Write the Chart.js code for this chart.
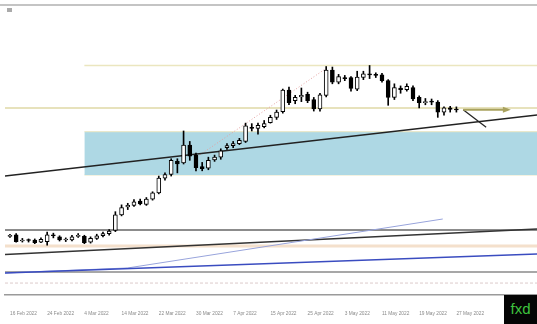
<!DOCTYPE html>
<html>
<head>
<meta charset="utf-8">
<script src="https://cdn.jsdelivr.net/npm/chart.js@4.4.1/dist/chart.umd.min.js"></script>
<style>
  html, body { margin: 0; padding: 0; background: #fff; }
  #wrap { position: relative; width: 537px; height: 324px; overflow: hidden; }
  #logo {
    position: absolute; left: 504px; top: 295px; width: 33px; height: 29px;
    background: #050505; color: #3fc43f; font: 15px "Liberation Sans", Arial, sans-serif;
    line-height: 27px; text-align: center;
  }
  #icon { position: absolute; left: 7px; top: 8px; width: 5px; height: 4px; background: #aaa; }
</style>
</head>
<body>
<div id="wrap">
  <canvas id="chart" width="537" height="324"></canvas>
  <div id="icon"></div>
  <div id="logo">fxd</div>
</div>
<script>
// USD/JPY daily candles, 16 Feb - 27 May 2022
const dates = [
  '16 Feb 2022','17 Feb 2022','18 Feb 2022','21 Feb 2022','22 Feb 2022','23 Feb 2022','24 Feb 2022','25 Feb 2022','28 Feb 2022',
  '1 Mar 2022','2 Mar 2022','3 Mar 2022','4 Mar 2022','7 Mar 2022','8 Mar 2022','9 Mar 2022','10 Mar 2022','11 Mar 2022',
  '14 Mar 2022','15 Mar 2022','16 Mar 2022','17 Mar 2022','18 Mar 2022','21 Mar 2022','22 Mar 2022','23 Mar 2022','24 Mar 2022',
  '25 Mar 2022','28 Mar 2022','29 Mar 2022','30 Mar 2022','31 Mar 2022','1 Apr 2022','4 Apr 2022','5 Apr 2022','6 Apr 2022',
  '7 Apr 2022','8 Apr 2022','11 Apr 2022','12 Apr 2022','13 Apr 2022','14 Apr 2022','15 Apr 2022','18 Apr 2022','19 Apr 2022',
  '20 Apr 2022','21 Apr 2022','22 Apr 2022','25 Apr 2022','26 Apr 2022','27 Apr 2022','28 Apr 2022','29 Apr 2022','2 May 2022',
  '3 May 2022','4 May 2022','5 May 2022','6 May 2022','9 May 2022','10 May 2022','11 May 2022','12 May 2022','13 May 2022',
  '16 May 2022','17 May 2022','18 May 2022','19 May 2022','20 May 2022','23 May 2022','24 May 2022','25 May 2022','26 May 2022',
  '27 May 2022'
];
const opens = [
  115.05,115.20,114.60,114.70,114.70,114.50,114.55,115.15,115.00,114.70,114.70,115.05,115.05,114.50,114.85,115.10,115.30,115.60,
  117.10,117.85,118.00,118.40,118.10,118.60,119.20,120.60,120.95,122.20,122.05,123.75,122.80,121.70,121.55,122.35,122.60,123.50,
  123.70,123.90,124.10,125.45,125.35,125.50,125.90,126.40,126.95,129.00,128.00,128.35,128.60,128.10,127.20,128.50,130.90,129.75,
  130.20,130.20,129.10,130.20,130.55,130.45,130.45,129.90,128.30,129.20,129.05,129.25,128.30,127.80,127.90,127.85,126.90,127.30,
  127.15
];
const highs = [
  115.25,115.30,114.85,114.80,114.80,114.90,115.45,115.35,115.10,114.90,115.15,115.30,115.15,115.00,115.25,115.45,115.70,117.40,
  118.05,118.20,118.55,118.60,118.75,119.30,120.80,121.10,122.45,122.45,125.10,124.10,123.00,122.10,122.60,122.80,123.40,123.90,
  124.10,124.40,125.85,125.80,125.85,126.10,126.60,127.10,129.10,129.30,128.50,129.20,128.80,128.30,128.70,131.25,131.20,130.50,
  130.40,130.30,130.80,130.80,131.35,130.65,130.60,130.00,129.60,129.40,129.60,129.40,128.45,128.20,128.15,128.00,127.40,127.45,
  127.40
];
const lows = [
  114.95,114.50,114.50,114.50,114.35,114.45,114.20,114.90,114.60,114.55,114.60,114.95,114.35,114.40,114.75,115.00,115.15,115.50,
  117.00,117.60,117.90,118.05,118.00,118.50,119.10,120.40,120.80,121.10,121.95,122.30,121.30,121.30,121.40,122.20,122.40,123.35,
  123.50,123.80,124.00,125.10,124.80,125.40,125.85,126.20,126.80,127.60,127.70,127.90,127.80,127.00,127.00,128.35,129.60,129.60,
  129.90,128.90,128.95,130.00,130.10,130.20,129.75,127.55,128.10,128.70,128.90,128.00,127.30,127.60,127.60,126.40,126.60,126.90,
  126.90
];
const closes = [
  115.10,114.55,114.70,114.65,114.45,114.75,115.20,115.10,114.70,114.75,115.00,115.10,114.45,114.85,115.10,115.30,115.55,117.10,
  117.80,118.00,118.35,118.15,118.60,119.20,120.60,120.95,122.30,121.95,123.75,122.70,121.60,121.50,122.30,122.60,123.20,123.70,
  123.90,124.20,125.60,125.35,125.65,125.80,126.40,126.90,129.00,127.80,128.30,128.50,128.00,127.20,128.55,130.90,129.75,130.30,
  130.10,129.15,130.25,130.55,130.45,130.40,129.90,128.30,129.25,129.05,129.35,128.15,127.80,127.90,127.85,126.90,127.30,127.15,
  127.10
];
const tickLabels = ['16 Feb 2022','24 Feb 2022','4 Mar 2022','14 Mar 2022','22 Mar 2022','30 Mar 2022','7 Apr 2022',
  '15 Apr 2022','25 Apr 2022','3 May 2022','11 May 2022','19 May 2022','27 May 2022'];

// drawn objects, in [bar index, price]
const resistanceTop = [[12, 131.35], [85, 131.35]];
const resistanceMid = [[-0.8, 127.30], [85, 127.30]];
const zoneTop = [[12, 125.03], [85, 125.03]];
const zoneBottom = [[12, 120.90], [85, 120.90]];
const trendMain = [[-0.8, 120.81], [85, 126.62]];
const trendRally = [[30.6, 122.80], [51.3, 131.20]];
const arrowFlat = [[73.1, 127.12], [80.3, 127.12]];
const arrowDown = [[73.1, 127.12], [76.8, 125.45]];
const supportLine = [[-0.8, 115.65], [85, 115.65]];
const trendLow = [[-0.8, 113.31], [85, 115.75]];
const peachLevel = [[-0.8, 114.12], [85, 114.12]];
const maFast = [[-0.8, 111.55], [19, 112.03], [69.8, 116.70]];
const maSlow = [[-0.8, 111.55], [85, 113.36]];
const lowLevel = [[-0.8, 111.64], [85, 111.64]];
const dashLevel = [[-0.8, 110.59], [85, 110.59]];

const pts = arr => arr.map(p => ({ x: p[0], y: p[1] }));

function lineSet(data, color, width, extra) {
  return Object.assign({
    type: 'line', data: pts(data), borderColor: color, borderWidth: width,
    pointRadius: 0, tension: 0, fill: false, order: 5
  }, extra || {});
}

const wicks = dates.map((d, i) => ({ x: i, y: [lows[i], highs[i]] }));
const bodies = dates.map((d, i) => ({ x: i, y: [opens[i], closes[i]] }));
const bodyColors = closes.map((c, i) => c >= opens[i] ? '#ffffff' : '#000000');

// arrow head on the flat projection + top frame line
const arrowHead = {
  id: 'arrowHead',
  afterDatasetsDraw(chart) {
    const { ctx, scales } = chart;
    const px = scales.x.getPixelForValue(arrowFlat[1][0]);
    const py = scales.y.getPixelForValue(arrowFlat[1][1]);
    ctx.save();
    ctx.fillStyle = '#a9a25e';
    ctx.beginPath();
    ctx.moveTo(px + 3, py);
    ctx.lineTo(px - 5, py - 3);
    ctx.lineTo(px - 5, py + 3);
    ctx.closePath();
    ctx.fill();
    ctx.strokeStyle = '#b0b0b0';
    ctx.lineWidth = 1.5;
    ctx.beginPath();
    ctx.moveTo(0, chart.chartArea.top);
    ctx.lineTo(chart.width, chart.chartArea.top);
    ctx.stroke();
    ctx.restore();
  }
};

new Chart(document.getElementById('chart'), {
  type: 'bar',
  data: {
    datasets: [
      lineSet(zoneTop, '#e9e5c2', 1, { fill: '+1', backgroundColor: '#aed8e4', order: 20 }),
      lineSet(zoneBottom, '#e9e5c2', 1, { order: 20 }),
      lineSet(resistanceTop, '#ebe6bf', 1.5, { order: 10 }),
      lineSet(resistanceMid, '#dfd8a6', 1.5, { order: 10 }),
      lineSet(peachLevel, '#f4e0cc', 3, { order: 10 }),
      lineSet(dashLevel, '#dccaca', 1, { borderDash: [3, 2], order: 10 }),
      lineSet(lowLevel, '#8a8a8a', 1.5, { order: 10 }),
      lineSet(supportLine, '#666666', 1.5, { order: 10 }),
      lineSet(maSlow, '#3a4cc0', 1.5),
      lineSet(maFast, '#98a4dc', 1),
      lineSet(trendLow, '#333333', 1.5),
      lineSet(trendMain, '#222222', 1.5),
      lineSet(trendRally, '#e3a0a0', 1, { borderDash: [1, 2] }),
      lineSet(arrowFlat, '#a9a25e', 2),
      lineSet(arrowDown, '#222222', 1.2),
      {
        type: 'bar', data: wicks, backgroundColor: '#000', borderWidth: 0,
        barThickness: 1, grouped: false, order: 2
      },
      {
        type: 'bar', data: bodies, backgroundColor: bodyColors, borderColor: '#000', borderWidth: 1,
        borderSkipped: false, barThickness: 4, minBarLength: 1, grouped: false, order: 1
      }
    ]
  },
  options: {
    responsive: false,
    animation: false,
    devicePixelRatio: 1,
    layout: { padding: { top: 5, left: 5, right: 0, bottom: 0 } },
    plugins: { legend: { display: false }, tooltip: { enabled: false } },
    scales: {
      x: {
        type: 'linear', min: -0.8, max: 85, offset: false,
        grid: { display: false, drawTicks: false },
        border: { display: true, color: '#9a9a9a', width: 1.5 },
        afterBuildTicks: axis => { axis.ticks = tickLabels.map(l => ({ value: dates.indexOf(l) })); },
        afterFit: axis => { axis.height = 29; },
        ticks: {
          align: 'start', maxRotation: 0, autoSkip: false, padding: 4, color: '#8a8a8a',
          font: { size: 4.8, family: 'Liberation Sans', lineHeight: '30px' },
          callback: v => dates[v]
        }
      },
      y: { type: 'linear', display: false, min: 109.45, max: 137.12 }
    }
  },
  plugins: [arrowHead]
});
</script>
</body>
</html>
